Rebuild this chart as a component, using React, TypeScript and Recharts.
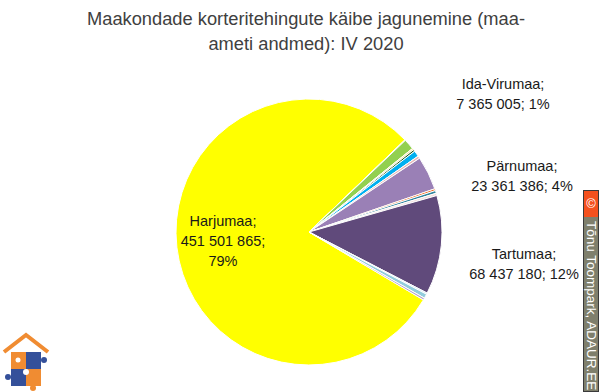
import React from 'react';
import { PieChart, Pie, Cell } from 'recharts';

const counties = [
  'Harjumaa', 'Hiiumaa', 'Ida-Virumaa', 'Jõgevamaa', 'Järvamaa', 'Lääne-Virumaa', 'Läänemaa',
  'Pärnumaa', 'Põlvamaa', 'Raplamaa', 'Saaremaa', 'Tartumaa', 'Valgamaa', 'Viljandimaa', 'Võrumaa',
];
const turnover = [
  451501865, 450000, 7365005, 1100000, 1300000, 4100000, 1700000,
  23361386, 1300000, 1900000, 1600000, 68437180, 900000, 3000000, 1400000,
];
const labelled = ['Harjumaa', 'Ida-Virumaa', 'Pärnumaa', 'Tartumaa'];

const colors = [
  '#FFFF00', '#F2F2F2', '#92D050', '#FFE699', '#1E5B1E', '#00B0F0', '#E6B9B8',
  '#9A80B6', '#F46314', '#31859C', '#F2DCDB', '#604A7B', '#B7DEE8', '#92CDDC', '#B3A2C7',
];

// label block placement relative to the pie centre (first line)
const labelPos: Record<string, { dx: number; dy: number }> = {
  Harjumaa: { dx: -86, dy: -11 },
  'Ida-Virumaa': { dx: 194, dy: -148 },
  Pärnumaa: { dx: 213, dy: -66 },
  Tartumaa: { dx: 215, dy: 22 },
};

const data = counties.map((name, i) => ({ name, value: turnover[i] }));

const fmt = (v: number) => String(v).replace(/\B(?=(\d{3})+(?!\d))/g, ' ');

const font = '"Liberation Sans", Arial, sans-serif';

const renderLabel = (props: any) => {
  const { cx, cy, name, value, percent } = props;
  if (!labelled.includes(name)) return null;
  const p = labelPos[name];
  const x = cx + p.dx;
  const y = cy + p.dy;
  const pct = Math.round(percent * 100) + '%';
  const lines = name === 'Harjumaa'
    ? [name + ';', fmt(value) + ';', pct]
    : [name + ';', fmt(value) + '; ' + pct];
  return (
    <text x={x} y={y} textAnchor="middle" dominantBaseline="central" fill="#1a1a1a"
      style={{ fontFamily: font, fontSize: 14.5 }}>
      {lines.map((l, i) => (
        <tspan key={i} x={x} dy={i === 0 ? 0 : 20}>{l}</tspan>
      ))}
    </text>
  );
};

const Logo = () => (
  <svg width={52} height={62} style={{ position: 'absolute', left: 0, top: 330 }}>
    <polyline points="4,22 26,5 48,22" fill="none" stroke="#F08C32" strokeWidth={4} />
    <rect x={11} y={22} width={15} height={17} fill="#F08C32" />
    <rect x={26} y={22} width={15} height={17} fill="#34509A" />
    <rect x={11} y={39} width={15} height={17} fill="#34509A" />
    <rect x={26} y={39} width={15} height={17} fill="#F08C32" />
    <circle cx={44} cy={30} r={3} fill="#34509A" />
    <circle cx={26} cy={42} r={3} fill="#fff" />
    <circle cx={8} cy={47} r={3} fill="#34509A" />
    <circle cx={33} cy={58} r={3} fill="#F08C32" />
    <circle cx={18} cy={30} r={2.5} fill="#fff" />
  </svg>
);

const Watermark = () => (
  <div style={{
    position: 'absolute', left: 583, top: 190, width: 14, height: 200,
    background: '#7F7F6C', border: '1px solid #3a3a3a',
  }}>
    <div style={{
      width: 14, height: 26, background: '#F4511E', color: '#fff',
      fontFamily: font, fontSize: 13, textAlign: 'center', lineHeight: '26px',
    }}>©</div>
    <div style={{
      position: 'absolute', left: 14, top: 30, transformOrigin: '0 0', transform: 'rotate(90deg)',
      whiteSpace: 'nowrap', color: '#fff', fontFamily: font, fontSize: 13.5, lineHeight: '14px',
    }}>Tõnu Toompark, ADAUR.EE</div>
  </div>
);

export default function App() {
  return (
    <div style={{ position: 'absolute', left: 0, top: 0, width: 600, height: 392, background: '#fff', overflow: 'hidden' }}>
      <div style={{
        position: 'absolute', left: 0, top: 6, width: 612, textAlign: 'center',
        fontFamily: font, fontSize: 18.3, lineHeight: '25px', color: '#404040',
      }}>
        Maakondade korteritehingute käibe jagunemine (maa-<br />ameti andmed): IV 2020
      </div>
      <PieChart width={600} height={392} style={{ position: 'absolute', left: 0, top: 0 }}>
        <Pie
          data={data}
          dataKey="value"
          nameKey="name"
          cx={304}
          cy={227}
          outerRadius={133}
          startAngle={-30.7}
          endAngle={-390.7}
          stroke="#fff"
          strokeWidth={1}
          label={renderLabel}
          labelLine={false}
          isAnimationActive={false}
        >
          {data.map((d, i) => (
            <Cell key={d.name} fill={colors[i]} />
          ))}
        </Pie>
      </PieChart>
      <Logo />
      <Watermark />
    </div>
  );
}
